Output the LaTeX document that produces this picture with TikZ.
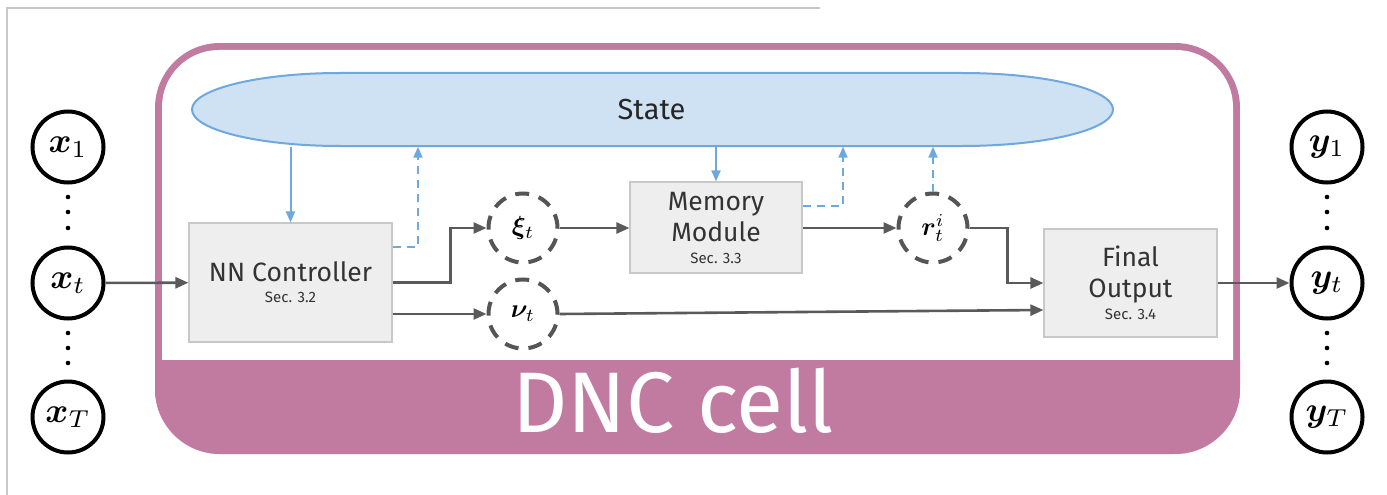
\documentclass[tikz,border=0pt]{standalone}
\usepackage{bm}
\usepackage{graphicx}
\usepackage{fontspec}
\newfontfamily\uf{Fira Sans}
\usetikzlibrary{arrows.meta}
\definecolor{pinkc}{RGB}{193,123,160}
\definecolor{bluef}{RGB}{207,226,243}
\definecolor{bluel}{RGB}{111,168,220}
\definecolor{boxf}{RGB}{238,238,238}
\definecolor{boxl}{RGB}{200,200,200}
\definecolor{arr}{RGB}{90,90,90}
\definecolor{dcirc}{RGB}{85,85,85}
\definecolor{framec}{RGB}{200,200,200}
\newcommand{\iomath}[1]{\scalebox{3.5}{$#1$}}
\newcommand{\varmath}[1]{\scalebox{2.6}{$#1$}}
\newcommand{\secfont}{\uf\fontsize{15}{17}\selectfont}
\begin{document}
\begin{tikzpicture}[x=1pt,y=-1pt,
 io/.style={circle,draw=black,line width=4pt,minimum size=71pt,inner sep=0pt},
 vc/.style={circle,draw=dcirc,line width=4pt,dash pattern=on 14pt off 10pt,minimum size=69pt,inner sep=0pt},
 blk/.style={draw=boxl,fill=boxf,line width=1.2pt,inner sep=0pt,align=center,font=\uf\fontsize{26.5}{31}\selectfont,text=black!80},
 garrow/.style={draw=arr,line width=2.6pt,-{Triangle[length=13pt,width=11pt]}},
 barrow/.style={draw=bluel,line width=2pt,-{Triangle[length=11pt,width=9pt]}},
 bdash/.style={barrow,dash pattern=on 8pt off 6pt}
]
\useasboundingbox (0,0) rectangle (1387,495);
\draw[framec,line width=1.5pt] (820,8) -- (7,8) -- (7,495);

% DNC cell container
\begin{scope}
\clip[rounded corners=65pt] (155,43) rectangle (1240,454);
\fill[pinkc] (155,43) rectangle (1240,454);
\fill[white,rounded corners=57pt] (162,50) rectangle (1233,600);
\fill[pinkc] (100,360) rectangle (1300,500);
\end{scope}
\node[text=white,font=\uf\fontsize{86}{90}\selectfont,anchor=base] (dnc) at (673,432) {DNC cell};

% State
\fill[bluef,draw=bluel,line width=2pt] (340,73) -- (962,73)
  arc[start angle=-90,end angle=90,x radius=151,y radius=36.5] -- (340,146)
  arc[start angle=90,end angle=270,x radius=148,y radius=36.5] -- cycle;
\node[minimum width=921pt,minimum height=73pt,inner sep=0pt,font=\uf\fontsize{29}{32}\selectfont,text=black!85] (state) at (651.5,110) {State};

% inputs / outputs
\node[io] (x1) at (68,147) {\iomath{\bm{x}_1}};
\node[io] (xt) at (68,283) {\iomath{\bm{x}_t}};
\node[io] (xT) at (68,417) {\iomath{\bm{x}_T}};
\node[io] (y1) at (1327,147) {\iomath{\bm{y}_1}};
\node[io] (yt) at (1327,283) {\iomath{\bm{y}_t}};
\node[io] (yT) at (1327,417) {\iomath{\bm{y}_T}};
\foreach \yy in {197,212,228,333,348,363}{
  \fill (68,\yy) circle (2.3pt);
  \fill (1327,\yy) circle (2.3pt);
}

% blocks
\node[blk,minimum width=203pt,minimum height=119pt] (nn) at (290.5,282.5) {NN Controller\\[-10pt]{\secfont Sec. 3.2}};
\node[blk,minimum width=172pt,minimum height=91pt] (mm) at (716,227.5) {Memory\\Module\\[-9pt]{\secfont Sec. 3.3}};
\node[blk,minimum width=173pt,minimum height=108pt] (fo) at (1130.5,283) {Final\\Output\\[-9pt]{\secfont Sec. 3.4}};

% dashed variable circles
\node[vc] (xi) at (523,228) {\varmath{\bm{\xi}_t}};
\node[vc] (nu) at (523,314) {\varmath{\bm{\nu}_t}};
\node[vc] (r) at (933,228) {\varmath{\bm{r}_t^i}};

% gray connectors
\draw[garrow] (xt) -- (nn);
\draw[garrow] (nn.east) -| ([xshift=-36pt]xi.west) -- (xi.west);
\draw[garrow] (nn.east |- nu) -- (nu);
\draw[garrow] (xi.east) -- (mm.west |- xi.east);
\draw[garrow] (mm.east |- r) -- (r);
\draw[garrow] (r.east) -- ([xshift=38pt]r.east) |- (fo.west);
\draw[garrow] (nu.east) -- ([yshift=-27pt]fo.west);
\draw[garrow] (fo.east) -- (yt);

% blue connectors
\draw[barrow] (state.south -| nn.north) -- (nn.north);
\draw[bdash] ([yshift=35.5pt]nn.east) -| ([xshift=-233.5pt]state.south);
\draw[barrow] (state.south -| mm.north) -- (mm.north);
\draw[bdash] ([yshift=21.5pt]mm.east) -| ([xshift=191.5pt]state.south);
\draw[bdash] (r.north) -- (state.south -| r.north);
\end{tikzpicture}
\end{document}
